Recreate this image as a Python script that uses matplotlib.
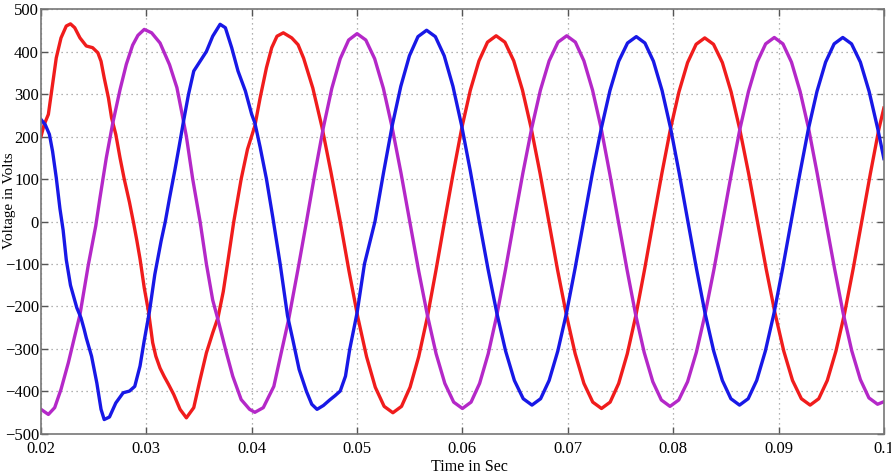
import matplotlib
matplotlib.use("Agg")
import matplotlib.pyplot as plt

# ---- data (time in s, voltage in V) ----
red_t = [0.0200, 0.0203, 0.0207, 0.0210, 0.02145, 0.0219, 0.0224, 0.0228, 0.0232, 0.0237,
         0.0243, 0.0249, 0.0254, 0.0257, 0.0260, 0.0264, 0.0267, 0.0271, 0.0275, 0.0279,
         0.0284, 0.0288, 0.0291, 0.0294, 0.0298, 0.0302, 0.0306, 0.0309, 0.0313, 0.0317,
         0.0321, 0.0326, 0.0332, 0.0338, 0.0345, 0.0351, 0.0357, 0.0363, 0.0368, 0.0373,
         0.0377, 0.0383, 0.0390, 0.0396, 0.0403, 0.0408, 0.0414, 0.0419, 0.0424, 0.0430,
         0.0438, 0.0444, 0.04493, 0.0458, 0.04667, 0.04753, 0.0484,
         0.04923, 0.05007, 0.0509, 0.05173, 0.05257, 0.0534,
         0.05422, 0.05503, 0.05585, 0.05667, 0.05748, 0.0583,
         0.05912, 0.05993, 0.06075, 0.06157, 0.06238, 0.0632,
         0.06403, 0.06487, 0.0657, 0.06653, 0.06737, 0.0682,
         0.06903, 0.06987, 0.0707, 0.07153, 0.07237, 0.0732,
         0.07402, 0.07483, 0.07565, 0.07647, 0.07728, 0.0781,
         0.07892, 0.07973, 0.08055, 0.08137, 0.08218, 0.0830,
         0.08383, 0.08467, 0.0855, 0.08633, 0.08717, 0.0880,
         0.08883, 0.08967, 0.0905, 0.09133, 0.09217, 0.0930,
         0.09382, 0.09463, 0.09545, 0.09627, 0.09708, 0.0979,
         0.09872, 0.09953, 0.1000]
red_v = [200, 228, 252, 305, 385, 432, 460, 465, 456, 432,
         413, 409, 397, 377, 338, 291, 244, 205, 150, 100,
         45, -5, -45, -88, -156, -211, -285, -317, -345, -365,
         -383, -407, -442, -462, -438, -372, -309, -262, -226, -165,
         -100, 0, 100, 170, 225, 291, 362, 409, 436, 444,
         432, 416, 384, 314, 222, 115, 0,
         -116, -225, -318, -390, -435, -450,
         -435, -390, -318, -225, -116, 0,
         113, 219, 309, 378, 422, 437,
         422, 378, 309, 219, 113, 0,
         -114, -220, -311, -381, -425, -440,
         -425, -381, -311, -220, -114, 0,
         112, 216, 305, 374, 417, 432,
         417, 374, 305, 216, 112, 0,
         -112, -216, -305, -374, -417, -432,
         -417, -374, -305, -216, -112, 0,
         113, 218, 267]

mag_t = [0.0200, 0.0207, 0.0213, 0.0219, 0.0226, 0.0232, 0.0237, 0.0245, 0.0252, 0.0256,
         0.0262, 0.0268, 0.0275, 0.0281, 0.0287, 0.0292, 0.0298, 0.0305, 0.0313, 0.0322,
         0.0329, 0.0334, 0.0338, 0.0344, 0.0351, 0.0357, 0.0363, 0.0368, 0.0376, 0.0382,
         0.0390, 0.0398, 0.0403, 0.0411, 0.0421, 0.0428, 0.0435, 0.04438, 0.0452,
         0.0460, 0.0468, 0.0476, 0.0484, 0.0492, 0.0500,
         0.05083, 0.05167, 0.0525, 0.05333, 0.05417, 0.0550,
         0.05583, 0.05667, 0.0575, 0.05833, 0.05917, 0.0600,
         0.06082, 0.06163, 0.06245, 0.06327, 0.06408, 0.0649,
         0.06573, 0.06657, 0.0674, 0.06823, 0.06907, 0.0699,
         0.07072, 0.07153, 0.07235, 0.07317, 0.07398, 0.0748,
         0.07562, 0.07643, 0.07725, 0.07807, 0.07888, 0.0797,
         0.08053, 0.08137, 0.0822, 0.08303, 0.08387, 0.0847,
         0.08552, 0.08633, 0.08715, 0.08797, 0.08878, 0.0896,
         0.09042, 0.09123, 0.09205, 0.09287, 0.09368, 0.0945,
         0.09532, 0.09613, 0.09695, 0.09777, 0.09858, 0.0994,
         0.1000]
mag_v = [-442, -454, -438, -395, -332, -270, -219, -101, -10, 56,
         150, 230, 310, 370, 415, 438, 452, 444, 420, 369,
         315, 252, 200, 100, 0, -100, -185, -231, -309, -364,
         -419, -442, -449, -438, -388, -309, -231, -114, 0,
         114, 221, 313, 383, 427, 442,
         427, 383, 313, 221, 114, 0,
         -114, -220, -311, -381, -425, -440,
         -425, -381, -311, -220, -114, 0,
         113, 219, 309, 378, 422, 437,
         422, 378, 309, 219, 113, 0,
         -113, -218, -308, -377, -420, -435,
         -420, -377, -308, -218, -113, 0,
         112, 217, 306, 375, 418, 433,
         418, 375, 306, 217, 112, 0,
         -111, -215, -304, -372, -415, -430,
         -424]

blue_t = [0.0200, 0.0204, 0.0208, 0.0211, 0.02145, 0.0218, 0.0221, 0.0224, 0.0228, 0.0234,
          0.0238, 0.0241, 0.0243, 0.0248, 0.0253, 0.0257, 0.0260, 0.0265, 0.0271, 0.0278,
          0.0284, 0.0289, 0.0294, 0.0298, 0.0303, 0.0308, 0.0314, 0.0318, 0.0322, 0.0327,
          0.0331, 0.0335, 0.0340, 0.0345, 0.0351, 0.0357, 0.0363, 0.0370, 0.0375, 0.0381,
          0.0387, 0.0394, 0.0400, 0.0403, 0.0408, 0.0414, 0.0420, 0.0427, 0.0434, 0.0439,
          0.0445, 0.0452, 0.0457, 0.0462, 0.0468, 0.0474, 0.0479, 0.0484, 0.0489, 0.0493,
          0.0500, 0.0507, 0.0517, 0.05252, 0.05333, 0.05415, 0.05497, 0.05578, 0.0566,
          0.05743, 0.05827, 0.0591, 0.05993, 0.06077, 0.0616,
          0.06243, 0.06327, 0.0641, 0.06493, 0.06577, 0.0666,
          0.06742, 0.06823, 0.06905, 0.06987, 0.07068, 0.0715,
          0.07233, 0.07317, 0.0740, 0.07483, 0.07567, 0.0765,
          0.07732, 0.07813, 0.07895, 0.07977, 0.08058, 0.0814,
          0.08222, 0.08303, 0.08385, 0.08467, 0.08548, 0.0863,
          0.08712, 0.08793, 0.08875, 0.08957, 0.09038, 0.0912,
          0.09202, 0.09283, 0.09365, 0.09447, 0.09528, 0.0961,
          0.09693, 0.09777, 0.0986, 0.09943, 0.1000]
blue_v = [240, 228, 205, 165, 103, 30, -20, -90, -150, -203,
          -227, -254, -274, -317, -380, -442, -466, -460, -427, -403,
          -399, -388, -340, -280, -211, -125, -46, 0, 55, 120,
          175, 232, 299, 354, 377, 400, 436, 464, 456, 409,
          354, 307, 252, 232, 175, 100, 10, -100, -222, -278,
          -348, -400, -430, -442, -433, -420, -410, -399, -364, -301,
          -215, -100, 0, 116, 225, 318, 390, 435, 450,
          435, 390, 318, 225, 116, 0,
          -112, -216, -305, -374, -417, -432,
          -417, -374, -305, -216, -112, 0,
          113, 218, 308, 377, 420, 435,
          420, 377, 308, 218, 113, 0,
          -112, -216, -305, -374, -417, -432,
          -417, -374, -305, -216, -112, 0,
          112, 217, 306, 375, 418, 433,
          418, 375, 306, 217, 148]

x_ticks = [0.02, 0.03, 0.04, 0.05, 0.06, 0.07, 0.08, 0.09, 0.1]
x_tick_labels = ["0.02", "0.03", "0.04", "0.05", "0.06", "0.07", "0.08", "0.09", "0.1"]
y_ticks = [-500, -400, -300, -200, -100, 0, 100, 200, 300, 400, 500]

plt.rcParams['font.family'] = ['Liberation Serif', 'DejaVu Serif']

fig = plt.figure(figsize=(8.91, 4.74), dpi=100)
ax = fig.add_axes([0.046, 0.0844, 0.946, 0.8966])

lw = 2.4
ax.plot(red_t, red_v, color='#f01c1c', lw=lw, solid_joinstyle='round')
ax.plot(mag_t, mag_v, color='#b428c8', lw=lw, solid_joinstyle='round')
ax.plot(blue_t, blue_v, color='#1818e6', lw=lw, solid_joinstyle='round')

ax.set_xlim(0.02, 0.1)
ax.set_ylim(-500, 500)
ax.set_xticks(x_ticks)
ax.set_xticklabels(x_tick_labels)
ax.set_yticks(y_ticks)
ax.grid(True, linestyle=(0, (1, 3)), color='#999999', lw=0.9)
ax.tick_params(direction='in', top=True, right=True, length=5, width=1,
               color='#555555', labelsize=12)
ax.tick_params(axis='x', pad=5)
ax.tick_params(axis='y', pad=1.5)
for s in ax.spines.values():
    s.set_color('#777777')
    s.set_linewidth(1.2)

ax.set_xlabel('Time in Sec', fontsize=11.5, labelpad=-1)
ax.xaxis.set_label_coords(0.508, -0.058)
ax.set_ylabel('Voltage in Volts', fontsize=11)
ax.yaxis.set_label_coords(-0.0295, 0.55)

fig.savefig('out.png', dpi=100)
